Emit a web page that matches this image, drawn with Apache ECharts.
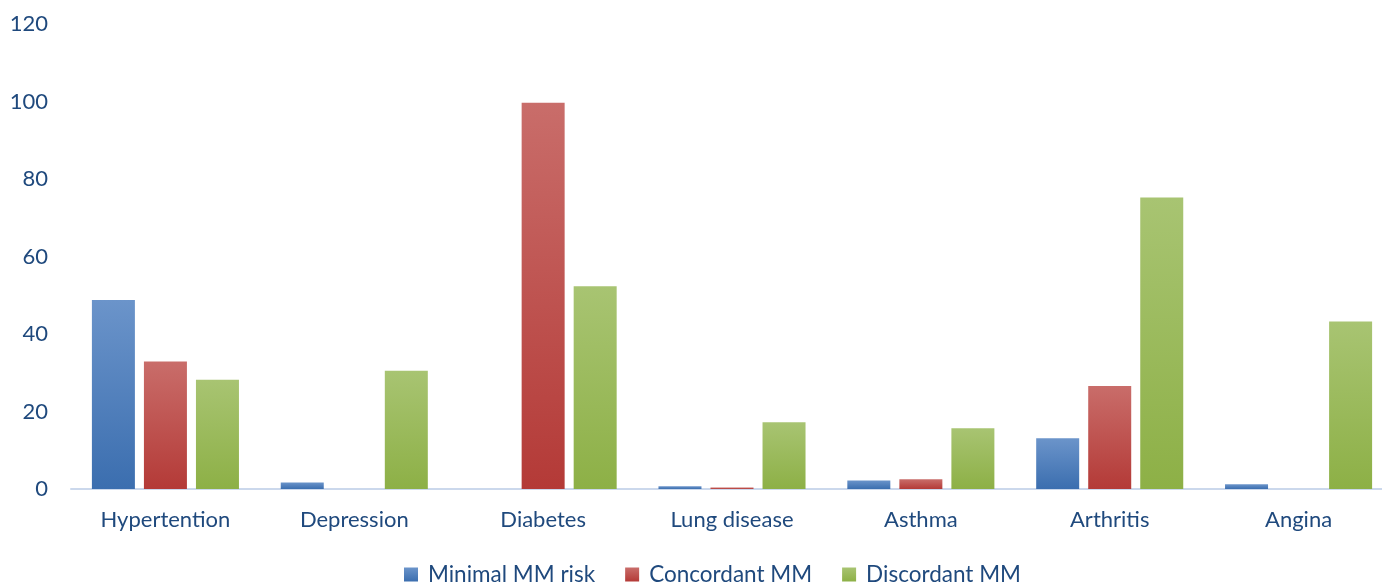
<!DOCTYPE html>
<html>
<head>
<meta charset="utf-8">
<script src="https://cdn.jsdelivr.net/npm/echarts@6/dist/echarts.min.js"></script>
<style>html,body{margin:0;padding:0;background:#fff;overflow:hidden;}#c{width:1382px;height:583px;}</style>
</head>
<body>
<div id="c"></div>
<script>
const categories = ['Hypertention','Depression','Diabetes','Lung disease','Asthma','Arthritis','Angina'];
const minimalRisk = [48.8, 1.7, 0, 0.7, 2.2, 13.1, 1.2];
const concordant = [32.9, 0, 99.7, 0.4, 2.5, 26.6, 0];
const discordant = [28.2, 30.5, 52.3, 17.2, 15.7, 75.2, 43.2];
const yTicks = [0, 20, 40, 60, 80, 100, 120];

function grad(top, bottom) {
  return new echarts.graphic.LinearGradient(0, 0, 0, 1, [
    {offset: 0, color: top}, {offset: 1, color: bottom}
  ]);
}
const txt = '#1F497D';
const font = 'Lato, "Open Sans", sans-serif';
const chart = echarts.init(document.getElementById('c'));
chart.setOption({
  animation: false,
  textStyle: {fontFamily: font},
  grid: {left: 71, width: 1322, top: 24, bottom: 94, containLabel: false, outerBoundsMode: 'none'},
  legend: {
    top: 558, left: 399, padding: 5, itemWidth: 14, itemHeight: 14, itemGap: 30,
    icon: 'rect',
    textStyle: {color: txt, fontSize: 22.5, fontFamily: font, padding: [0, 0, 0, 5]}
  },
  xAxis: {
    type: 'category', data: categories,
    axisLine: {lineStyle: {color: '#CBD8EC', width: 2}},
    axisTick: {show: false},
    axisLabel: {color: txt, fontSize: 22, margin: 20, fontFamily: font}
  },
  yAxis: {
    type: 'value', min: yTicks[0], max: yTicks[yTicks.length - 1], interval: 20,
    splitLine: {show: false},
    axisLine: {show: false}, axisTick: {show: false},
    axisLabel: {color: txt, fontSize: 22, margin: 23, fontFamily: font}
  },
  series: [
    {name: 'Minimal MM risk', type: 'bar', data: minimalRisk, barWidth: 43, barGap: '21%',
     itemStyle: {color: grad('#6B94CA', '#3B6EAF')}},
    {name: 'Concordant MM', type: 'bar', data: concordant, barWidth: 43,
     itemStyle: {color: grad('#C96D6A', '#B43A37')}},
    {name: 'Discordant MM', type: 'bar', data: discordant, barWidth: 43,
     itemStyle: {color: grad('#A8C472', '#8DB046')}}
  ]
});
</script>
</body>
</html>
